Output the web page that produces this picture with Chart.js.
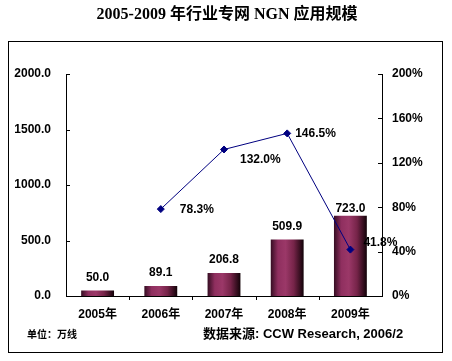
<!DOCTYPE html>
<html>
<head>
<meta charset="utf-8">
<script src="https://cdn.jsdelivr.net/npm/chart.js@4"></script>
<style>
  html, body { margin: 0; padding: 0; background: #fff; }
  #wrap { position: relative; width: 452px; height: 361px; }
</style>
</head>
<body>
<div id="wrap"><canvas id="ngnChart" width="452" height="361"></canvas></div>
<script>
// data
let years = ["2005年", "2006年", "2007年", "2008年", "2009年"];
let scaleValues = [50.0, 89.1, 206.8, 509.9, 723.0];   // 万线
let growthValues = [null, 78.3, 132.0, 146.5, 41.8];   // %
let leftTicks = [0, 500, 1000, 1500, 2000];
let rightTicks = [0, 40, 80, 120, 160, 200];

let titleText = "2005-2009 年行业专网 NGN 应用规模";
let unitText = "单位：万线";
let sourceText = "数据来源: CCW Research, 2006/2";

const SANS = "Arial, 'Liberation Sans', 'Noto Sans CJK SC', sans-serif";

// bar fill: dark edges, magenta middle
function barFill(c) {
    let chart = c.chart;
    let xs = chart.scales.x;
    if (!chart.chartArea || !xs || c.dataIndex === undefined) return "#993366";
    let cx = xs.getPixelForValue(c.dataIndex);
    let w = xs.width / years.length * 0.52;
    let g = chart.ctx.createLinearGradient(cx - w / 2, 0, cx + w / 2, 0);
    g.addColorStop(0, "#350d22");
    g.addColorStop(0.22, "#8f2f5f");
    g.addColorStop(0.45, "#9b3868");
    g.addColorStop(0.7, "#762449");
    g.addColorStop(1, "#120208");
    return g;
}

// frame, title, notes, inward ticks, value labels
const decor = {
    id: "decor",
    beforeDraw(chart) {
        let ctx = chart.ctx;
        ctx.save();
        ctx.fillStyle = "#fff";
        ctx.fillRect(0, 0, chart.width, chart.height);
        ctx.strokeStyle = "#000";
        ctx.lineWidth = 1;
        ctx.strokeRect(8.5, 41.5, 434, 311);

        ctx.fillStyle = "#000";
        ctx.textAlign = "center";
        ctx.textBaseline = "middle";
        ctx.font = "bold 16px 'Liberation Serif', 'Times New Roman', 'Noto Sans CJK SC', serif";
        ctx.fillText(titleText, 227, 15);

        ctx.textAlign = "left";
        ctx.font = "bold 10px 'Noto Sans CJK SC', sans-serif";
        ctx.fillText(unitText, 27, 334);
        ctx.font = "bold 13px " + SANS;
        ctx.fillText(sourceText, 203, 334);
        ctx.restore();
    },
    afterDraw(chart) {
        let ctx = chart.ctx;
        let a = chart.chartArea;
        let y = chart.scales.y, y1 = chart.scales.y1, x = chart.scales.x;
        ctx.save();
        ctx.strokeStyle = "#000";
        ctx.lineWidth = 1;
        ctx.beginPath();
        leftTicks.forEach(v => {
            let p = Math.round(y.getPixelForValue(v)) + 0.5;
            ctx.moveTo(a.left, p); ctx.lineTo(a.left + 4, p);
        });
        rightTicks.forEach(v => {
            let p = Math.round(y1.getPixelForValue(v)) + 0.5;
            ctx.moveTo(a.right, p); ctx.lineTo(a.right - 4, p);
        });
        let step = x.width / years.length;
        for (let i = 1; i < years.length; i++) {
            let p = Math.round(a.left + i * step) + 0.5;
            ctx.moveTo(p, a.bottom); ctx.lineTo(p, a.bottom + 4);
        }
        ctx.stroke();

        // bar value labels
        ctx.fillStyle = "#000";
        ctx.font = "bold 12px " + SANS;
        ctx.textAlign = "center";
        ctx.textBaseline = "middle";
        let barMeta = chart.getDatasetMeta(1);
        barMeta.data.forEach((el, i) => {
            let up = i === years.length - 1 ? 7 : 13;
            ctx.fillText(scaleValues[i].toFixed(1), el.x, el.y - up);
        });

        // growth labels
        let lineMeta = chart.getDatasetMeta(0);
        let offs = [null, [19, 1], [16, 10], [8, 0], [13, -7]];
        ctx.textAlign = "left";
        lineMeta.data.forEach((el, i) => {
            if (growthValues[i] === null) return;
            ctx.fillText(growthValues[i].toFixed(1) + "%", el.x + offs[i][0], el.y + offs[i][1]);
        });
        ctx.restore();
    }
};

let ctx = document.getElementById("ngnChart").getContext("2d");

new Chart(ctx, {
    data: {
        labels: years,
        datasets: [{
            type: "line",
            label: "增长率",
            data: growthValues,
            yAxisID: "y1",
            order: 0,
            borderColor: "#000080",
            borderWidth: 1,
            pointStyle: "rectRot",
            pointRadius: 3.5,
            pointBackgroundColor: "#000080",
            pointBorderColor: "#000080",
            tension: 0
        }, {
            type: "bar",
            label: "规模",
            data: scaleValues,
            yAxisID: "y",
            order: 1,
            backgroundColor: barFill,
            borderWidth: 0,
            categoryPercentage: 1,
            barPercentage: 0.52
        }]
    },
    options: {
        responsive: false,
        animation: false,
        devicePixelRatio: 1,
        layout: { padding: { top: 74, left: 0, right: 0, bottom: 35 } },
        plugins: {
            legend: { display: false },
            tooltip: { enabled: false },
            title: { display: false }
        },
        scales: {
            x: {
                grid: { display: false, drawTicks: false },
                border: { display: true, color: "#000", width: 1 },
                ticks: { color: "#000", font: { family: SANS, size: 12, weight: "bold" }, padding: 11, maxRotation: 0 },
                afterFit(s) { s.height = 30; }
            },
            y: {
                position: "left",
                min: 0, max: 2000,
                afterBuildTicks(s) { s.ticks = leftTicks.map(v => ({ value: v })); },
                grid: { display: false, drawTicks: false },
                border: { display: true, color: "#000", width: 1 },
                ticks: {
                    color: "#000", padding: 15,
                    font: { family: SANS, size: 12, weight: "bold" },
                    callback: v => v.toFixed(1)
                },
                afterFit(s) { s.width = 66; }
            },
            y1: {
                position: "right",
                min: 0, max: 200,
                afterBuildTicks(s) { s.ticks = rightTicks.map(v => ({ value: v })); },
                grid: { display: false, drawTicks: false },
                border: { display: true, color: "#000", width: 1 },
                ticks: {
                    color: "#000", padding: 10,
                    font: { family: SANS, size: 12, weight: "bold" },
                    callback: v => v + "%"
                },
                afterFit(s) { s.width = 70; }
            }
        }
    },
    plugins: [decor]
});
</script>
</body>
</html>
